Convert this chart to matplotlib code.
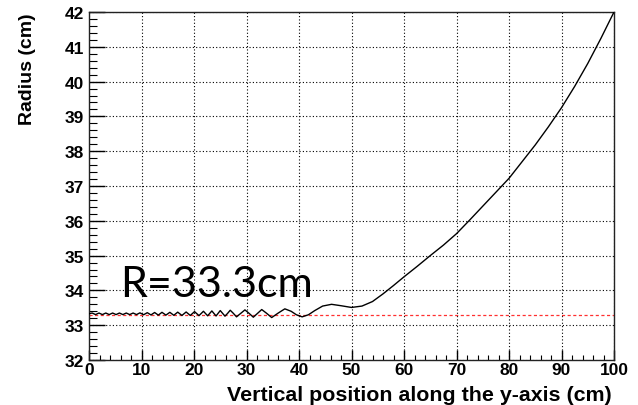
import matplotlib
matplotlib.use("Agg")
import matplotlib.pyplot as plt
from matplotlib.ticker import MultipleLocator

# Curve: vertical position (cm) vs radius (cm)
position_cm = [0.0, 0.6, 1.25, 1.9, 2.55, 3.2, 3.85, 4.5, 5.15, 5.8, 6.45, 7.1, 7.75,
               8.4, 9.05, 9.7, 10.4, 11.1, 11.8, 12.5, 13.2, 13.9, 14.65, 15.4, 16.15,
               16.9, 17.7, 18.5, 19.3, 20.1, 20.95, 21.8, 22.6, 23.4, 24.2, 25.0,
               25.45, 25.9, 26.4, 26.9, 27.5, 28.1, 28.9, 29.7, 30.5, 31.3, 32.1, 32.9,
               33.85, 34.8, 36.05, 37.3, 38.5, 39.5, 40.6, 41.8, 43.0, 44.5, 46.2, 48.0,
               50.0, 52.0, 54.0, 56.0, 58.0, 60.0, 62.5, 65.0, 67.5, 70.0, 72.5, 75.0,
               77.5, 80.0, 82.5, 85.0, 87.5, 90.0, 92.5, 95.0, 97.5, 100.0]
radius_cm = [33.33, 33.35, 33.305, 33.35, 33.305, 33.35, 33.305, 33.35, 33.305, 33.35,
             33.305, 33.35, 33.305, 33.35, 33.305, 33.355, 33.30, 33.36, 33.295, 33.365,
             33.29, 33.37, 33.29, 33.37, 33.285, 33.375, 33.28, 33.38, 33.28, 33.39,
             33.275, 33.40, 33.27, 33.41, 33.265, 33.42,
             33.34, 33.26, 33.34, 33.43, 33.34, 33.24, 33.34, 33.44, 33.34, 33.23, 33.34,
             33.45, 33.34, 33.22, 33.35, 33.47, 33.40, 33.30, 33.24, 33.30, 33.42, 33.55,
             33.60, 33.56, 33.51, 33.55, 33.68, 33.90, 34.14, 34.39, 34.69, 35.0, 35.3,
             35.63, 36.02, 36.42, 36.82, 37.22, 37.70, 38.18, 38.70, 39.25, 39.86, 40.52,
             41.24, 42.0]

ref_radius = [33.3, 33.3]
ref_pos = [0, 100]

x_ticks = [0, 10, 20, 30, 40, 50, 60, 70, 80, 90, 100]
y_ticks = [32, 33, 34, 35, 36, 37, 38, 39, 40, 41, 42]

W, H = 638, 406
fig = plt.figure(figsize=(W / 100, H / 100), dpi=100)
ax = fig.add_axes([89 / W, 1 - 361 / H, (614 - 89) / W, (361 - 13) / H])

ax.plot(ref_pos, ref_radius, color="#ff3030", lw=0.9, ls=(0, (2.5, 2)), zorder=2)
ax.plot(position_cm, radius_cm, color="black", lw=1.0, zorder=3)

ax.set_xlim(0, 100)
ax.set_ylim(32, 42)
ax.set_xticks(x_ticks)
ax.set_yticks(y_ticks)
ax.xaxis.set_minor_locator(MultipleLocator(2))
ax.yaxis.set_minor_locator(MultipleLocator(0.2))
ax.grid(True, which="major", color="black", lw=0.8, ls=(0, (1, 2)))

ax.tick_params(axis="both", which="both", direction="in", top=False, right=False,
               color="black")
ax.tick_params(axis="x", which="major", length=7.2, width=1.0, pad=1.5)
ax.tick_params(axis="x", which="minor", length=3.6, width=0.8)
ax.tick_params(axis="y", which="major", length=11.5, width=1.0, pad=3.5)
ax.tick_params(axis="y", which="minor", length=5.8, width=0.8)

for lab in ax.get_xticklabels() + ax.get_yticklabels():
    lab.set_fontfamily("Liberation Sans")
    lab.set_fontweight("bold")
    lab.set_fontsize(12.5)

for s in ax.spines.values():
    s.set_linewidth(1.0)
    s.set_color("#222222")

fig.text(28 / W, 1 - 13 / H, "Radius (cm)", rotation=90, ha="center", va="top",
         fontsize=14, fontweight="bold", family="Liberation Sans")
fig.text(612 / W, 1 - 401 / H, "Vertical position along the y-axis (cm)",
         ha="right", va="baseline", fontsize=15.4, fontweight="bold",
         family="Liberation Sans")

ax.text(6.0, 33.85, "R=33.3cm", fontsize=31, family="Lato", ha="left",
        va="baseline", color="black")

fig.savefig("out.png", dpi=100)
